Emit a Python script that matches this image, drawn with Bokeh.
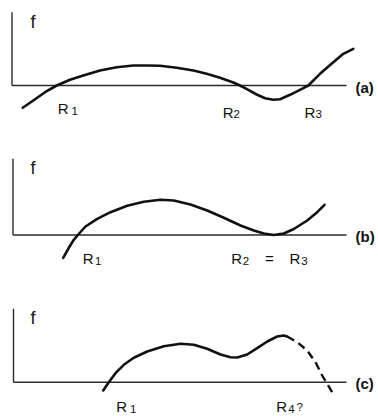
from bokeh.plotting import figure
from bokeh.layouts import column
from bokeh.models import Range1d, Label
from bokeh.embed import file_html
from bokeh.resources import INLINE

# ---- data (x: distance from axis origin, f: value above the axis) ----
# panel (a): three distinct roots
a_x = [10.7, 21.3, 33, 44.7, 58, 71.3, 88, 104.7, 121.3, 134.7, 148, 164.7, 181.3,
       194.7, 208, 221.3, 228, 236.3, 244.7, 253, 261.3, 268, 278, 288, 296.3,
       308, 321.3, 331.3, 341.3]
a_f = [-22.3, -15, -6.7, 0, 5.7, 10, 15, 18.3, 20, 20, 19.7, 17.7, 15,
       11.7, 7.7, 3, 0, -4.3, -9, -12.7, -14.3, -13.7, -9.3, -4.3, 0,
       11.7, 23.3, 31.7, 36.7]

# panel (b): double root R2 = R3
b_x = [50.2, 55.8, 60.8, 64.8, 72.5, 84.2, 97.5, 114.2, 130.8, 147.5, 160.8, 177.5,
       194.2, 210.8, 227.5, 240.8, 250.8, 260.8, 270.8, 280.8, 294.2, 304.2, 311.5]
b_f = [-22.8, -12.8, -4.8, 0, 8.5, 16.2, 22.8, 29.2, 33.2, 35.2, 34.5, 30.5,
       24.5, 17.2, 9.5, 4.5, 1.5, 0, 1.5, 6.0, 14.5, 22.8, 30.2]

# panel (c): solid part and uncertain (dashed) continuation
c_x = [89.7, 95.3, 102, 110.3, 120.3, 133.7, 150.3, 167, 180.3, 193.7, 207, 217,
       223.7, 233.7, 243.7, 253.7, 263.7, 270.3, 273.7]
c_f = [-8.3, 0, 9, 17.4, 24.4, 30.7, 36, 38.4, 37.4, 33.4, 27.7, 25,
       24.7, 27.7, 34, 40.7, 45.7, 46.7, 45.7]
cd_x = [273.7, 283.7, 293.7, 302, 308.7, 313.7, 318.7]
cd_f = [45.7, 40, 31.7, 20, 6.7, -1.6, -10]

panel_tags = ["(a)", "(b)", "(c)"]
axis_label = "f"

FONT = "Liberation Sans"
W = 378
INK = "#111111"
LIFT = 5  # compensation for the text baseline


def panel(height, ox, oy, vtop):
    """ox, oy: pixel position of the axis origin inside the panel."""
    p = figure(width=W, height=height, output_backend="svg", toolbar_location=None,
               x_range=Range1d(-ox, W - ox), y_range=Range1d(oy - height, oy),
               x_axis_type=None, y_axis_type=None, min_border=0,
               outline_line_color=None, background_fill_color="white",
               border_fill_color="white")
    p.grid.visible = False
    # axes: horizontal f = 0 line and vertical f axis
    p.segment(x0=[0, 0], y0=[0, 0], x1=[346 - ox, 0], y1=[0, vtop],
              line_color="#2a2a2a", line_width=1.4)
    return p


def txt(p, x, y, s, size, bold=False, baseline="alphabetic", align="left"):
    if baseline == "alphabetic":
        y = y + LIFT
    p.add_layout(Label(x=x, y=y, text=s, text_font=FONT,
                       text_font_size=f"{size}px",
                       text_font_style="bold" if bold else "normal",
                       text_baseline=baseline, text_align=align,
                       text_color=INK))


def root(p, x, y, sub, xs, ys):
    txt(p, x, y, "R", 15)
    txt(p, xs, ys, sub, 11.5)


# panel (a)
pa = panel(140, 11.5, 85, 73.3)
pa.line(a_x, a_f, line_color=INK, line_width=2.6, line_join="round", line_cap="round")
txt(pa, 18.5, 59, axis_label, 18)
txt(pa, 355 - 11.5, -2, panel_tags[0], 15, bold=True, baseline="middle")
root(pa, 45.8, -27.7, "1", 59.5, -30)
root(pa, 210.8, -31.7, "2", 221.5, -33)
root(pa, 292.5, -31.7, "3", 303.5, -33)

# panel (b)
pb = panel(140, 12.5, 94.5, 76.2)
pb.line(b_x, b_f, line_color=INK, line_width=2.6, line_join="round", line_cap="round")
txt(pb, 17.5, 61.9, axis_label, 18)
txt(pb, 355 - 12.5, -1, panel_tags[1], 15, bold=True, baseline="middle")
root(pb, 69.8, -28.8, "1", 82, -30.5)
root(pb, 218.2, -28.8, "2", 229.8, -30.5)
txt(pb, 256.5, -28.8, "=", 15, align="center")
root(pb, 276.5, -28.8, "3", 288.2, -30.5)

# panel (c)
pc = panel(136, 13, 101.7, 73.4)
pc.line(c_x, c_f, line_color=INK, line_width=2.6, line_join="round", line_cap="round")
pc.line(cd_x, cd_f, line_color=INK, line_width=2.4, line_dash="8 5")
txt(pc, 17, 59.1, axis_label, 18)
txt(pc, 355 - 13, -1, panel_tags[2], 15, bold=True, baseline="middle")
root(pc, 102.7, -29.5, "1", 116.5, -32)
root(pc, 262.7, -29.5, "4", 274.7, -32)
txt(pc, 283, -29.5, "?", 11.5)

layout = column(pa, pb, pc, spacing=0)
open("out.html", "w").write(file_html(layout, INLINE))
